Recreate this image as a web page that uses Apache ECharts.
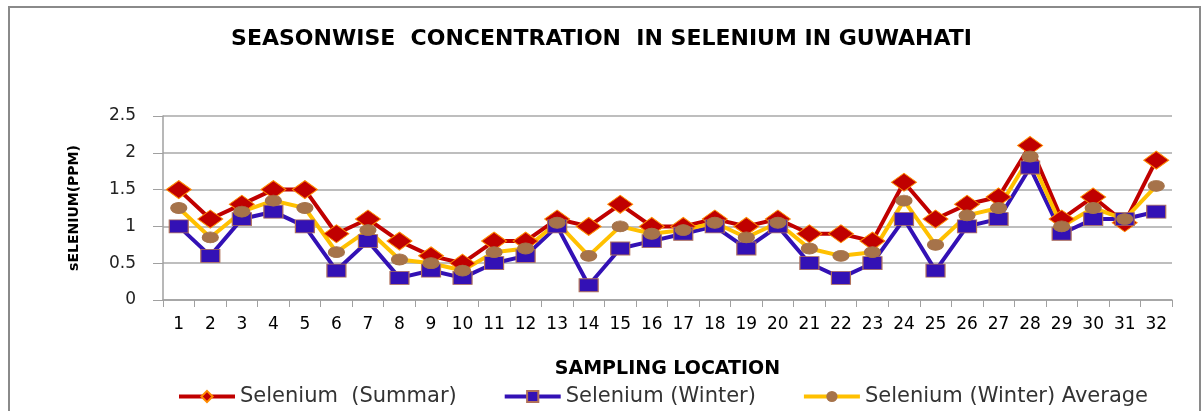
<!DOCTYPE html>
<html lang="en">
<head>
    <meta charset="UTF-8">
    <title>Selenium Guwahati</title>
    <script src="https://cdn.jsdelivr.net/npm/echarts@6/dist/echarts.min.js"></script>
</head>
<body style="margin:0;background:#fff;">
    <div id="main" style="width:1203px;height:411px;"></div>
</body>
<script>
    var locations = ['1','2','3','4','5','6','7','8','9','10','11','12','13','14','15','16',
        '17','18','19','20','21','22','23','24','25','26','27','28','29','30','31','32'];
    var summer = [1.5,1.1,1.3,1.5,1.5,0.9,1.1,0.8,0.6,0.5,0.8,0.8,1.1,1.0,1.3,1.0,
        1.0,1.1,1.0,1.1,0.9,0.9,0.8,1.6,1.1,1.3,1.4,2.1,1.1,1.4,1.05,1.9];
    var winter = [1.0,0.6,1.1,1.2,1.0,0.4,0.8,0.3,0.4,0.3,0.5,0.6,1.0,0.2,0.7,0.8,
        0.9,1.0,0.7,1.0,0.5,0.3,0.5,1.1,0.4,1.0,1.1,1.8,0.9,1.1,1.1,1.2];
    var average = [1.25,0.85,1.2,1.35,1.25,0.65,0.95,0.55,0.5,0.4,0.65,0.7,1.05,0.6,1.0,0.9,
        0.95,1.05,0.85,1.05,0.7,0.6,0.65,1.35,0.75,1.15,1.25,1.95,1.0,1.25,1.1,1.55];

    var font = '"DejaVu Sans", Verdana, sans-serif';
    var myChart = echarts.init(document.getElementById('main'));

    var option = {
        animation: false,
        textStyle: {fontFamily: font},
        title: {
            text: 'SEASONWISE  CONCENTRATION  IN SELENIUM IN GUWAHATI',
            left: 'center',
            top: 23,
            textStyle: {fontSize: 22, fontWeight: 'bold', color: '#000', fontFamily: font}
        },
        graphic: [{
            type: 'rect',
            shape: {x: 9, y: 7, width: 1191, height: 420},
            style: {fill: 'none', stroke: '#8a8a8a', lineWidth: 2}
        }],
        legend: {
            left: 172,
            top: 381,
            itemWidth: 56,
            itemHeight: 14,
            itemGap: 46,
            lineStyle: {width: 4},
            textStyle: {fontSize: 21, color: '#333', fontFamily: font},
            data: ['Selenium  (Summar)', 'Selenium (Winter)', 'Selenium (Winter) Average']
        },
        grid: {left: 163, right: 31, top: 116, bottom: 111},
        xAxis: {
            type: 'category',
            data: locations,
            boundaryGap: true,
            name: 'SAMPLING LOCATION',
            nameLocation: 'middle',
            nameGap: 60,
            nameTextStyle: {fontSize: 19, fontWeight: 'bold', color: '#000', fontFamily: font},
            axisLine: {lineStyle: {color: '#a0a0a0', width: 1.5}},
            axisTick: {show: true, length: 7, lineStyle: {color: '#a0a0a0'}},
            axisLabel: {fontSize: 17, color: '#000', margin: 16, interval: 0}
        },
        yAxis: {
            type: 'value',
            min: 0,
            max: 2.5,
            interval: 0.5,
            name: 'sELENIUM(PPM)',
            nameLocation: 'middle',
            nameGap: 82,
            nameTextStyle: {fontSize: 14, fontWeight: 'bold', color: '#000', fontFamily: font},
            axisLine: {show: true, lineStyle: {color: '#a0a0a0', width: 1.5}},
            axisTick: {show: true, length: 10, lineStyle: {color: '#a0a0a0'}},
            axisLabel: {fontSize: 17, color: '#222', margin: 27},
            splitLine: {lineStyle: {color: '#a8a8a8', width: 1.5}}
        },
        series: [
            {
                name: 'Selenium  (Summar)',
                type: 'line',
                data: summer,
                symbol: 'diamond',
                symbolSize: [25, 18],
                lineStyle: {color: '#C00000', width: 4},
                itemStyle: {color: '#C00000', borderColor: '#FF8C00', borderWidth: 1}
            },
            {
                name: 'Selenium (Winter)',
                type: 'line',
                data: winter,
                symbol: 'rect',
                symbolSize: [19, 13],
                lineStyle: {color: '#3311B5', width: 4},
                itemStyle: {color: '#3311B5', borderColor: '#B0705A', borderWidth: 1}
            },
            {
                name: 'Selenium (Winter) Average',
                type: 'line',
                data: average,
                symbol: 'circle',
                symbolSize: [16, 11],
                lineStyle: {color: '#FFC000', width: 4},
                itemStyle: {color: '#A6734A', borderColor: '#A6734A'}
            }
        ]
    };

    myChart.setOption(option);
</script>
</html>
